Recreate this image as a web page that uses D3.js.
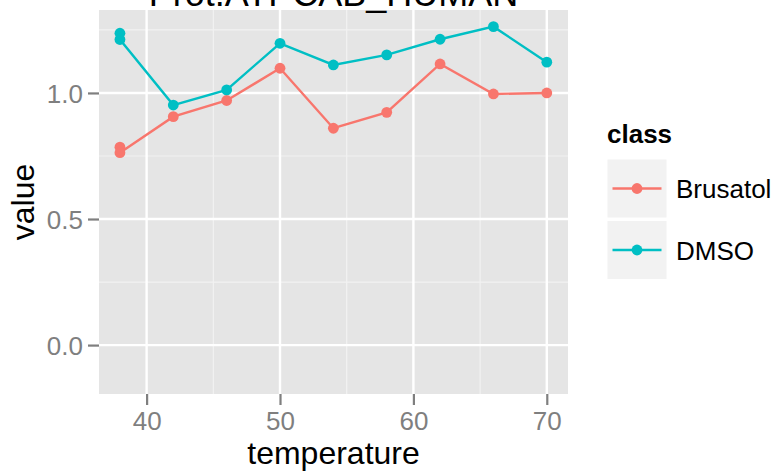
<!DOCTYPE html>
<html><head><meta charset="utf-8">
<script src="https://cdn.jsdelivr.net/npm/d3@7"></script>
<style>html,body{margin:0;padding:0;background:#fff;}svg{display:block;font-family:"Liberation Sans",Arial,sans-serif;}</style>
</head><body><svg id="c" width="775" height="472"></svg>
<script>
const chartTitle = "Prot.ATPCAB_HUMAN";
const classes = ["Brusatol", "DMSO"];
const colors = ["#F8766D", "#00BFC4"];
const brusatolTemp = [38, 38, 42, 46, 50, 54, 58, 62, 66, 70];
const brusatolValue = [0.785, 0.763, 0.906, 0.970, 1.098, 0.860, 0.923, 1.115, 0.996, 1.000];
const dmsoTemp = [38, 38, 42, 46, 50, 54, 58, 62, 66, 70];
const dmsoValue = [1.237, 1.212, 0.952, 1.012, 1.197, 1.111, 1.151, 1.213, 1.263, 1.122];
const xTicks = [40, 50, 60, 70];
const xMinor = [45, 55, 65];
const yTicks = [0, 0.5, 1.0];
const yMinor = [0.25, 0.75, 1.25];

const svg = d3.select("#c");
const P = {l: 99, r: 568, t: 10, b: 394};
const x = d3.scaleLinear().domain([36.43, 71.59]).range([P.l, P.r]);
const y = d3.scaleLinear().domain([-0.194, 1.329]).range([P.b, P.t]);

svg.append("rect").attr("x", P.l).attr("y", P.t).attr("width", P.r - P.l).attr("height", P.b - P.t).attr("fill", "#E5E5E5");
const g = svg.append("g");
xMinor.forEach(v => g.append("line").attr("x1", x(v)).attr("x2", x(v)).attr("y1", P.t).attr("y2", P.b).attr("stroke", "#F2F2F2").attr("stroke-width", 1.2));
yMinor.forEach(v => g.append("line").attr("y1", y(v)).attr("y2", y(v)).attr("x1", P.l).attr("x2", P.r).attr("stroke", "#F2F2F2").attr("stroke-width", 1.2));
xTicks.forEach(v => g.append("line").attr("x1", x(v)).attr("x2", x(v)).attr("y1", P.t).attr("y2", P.b).attr("stroke", "#fff").attr("stroke-width", 2.4));
yTicks.forEach(v => g.append("line").attr("y1", y(v)).attr("y2", y(v)).attr("x1", P.l).attr("x2", P.r).attr("stroke", "#fff").attr("stroke-width", 2.4));

// axes
const xAxis = d3.axisBottom(x).tickValues(xTicks).tickSize(11).tickPadding(4).tickFormat(d3.format("d"));
const gx = svg.append("g").attr("transform", `translate(0,${P.b})`).call(xAxis);
const yAxis = d3.axisLeft(y).tickValues(yTicks).tickSize(11).tickPadding(5).tickFormat(d3.format(".1f"));
const gy = svg.append("g").attr("transform", `translate(${P.l},0)`).call(yAxis);
[gx, gy].forEach(a => {
  a.select(".domain").remove();
  a.selectAll(".tick line").attr("stroke", "#7F7F7F").attr("stroke-width", 2.2);
  a.selectAll(".tick text").attr("fill", "#7F7F7F").attr("font-size", 26).attr("font-family", "Liberation Sans, Arial, sans-serif");
});
gx.selectAll(".tick text").attr("dy", null).attr("y", 36);
gy.selectAll(".tick text").attr("dy", "0.36em");

// series
const series = [
  {name: classes[0], color: colors[0], pts: brusatolTemp.map((t, i) => [t, brusatolValue[i]])},
  {name: classes[1], color: colors[1], pts: dmsoTemp.map((t, i) => [t, dmsoValue[i]])}
];
const line = d3.line().x(d => x(d[0])).y(d => y(d[1]));
series.forEach(s => {
  svg.append("path").attr("d", line(s.pts)).attr("fill", "none").attr("stroke", s.color).attr("stroke-width", 2.4);
  svg.selectAll(null).data(s.pts).enter().append("circle")
    .attr("cx", d => x(d[0])).attr("cy", d => y(d[1])).attr("r", 5.4).attr("fill", s.color);
});

// titles
svg.append("text").attr("x", (P.l + P.r) / 2).attr("y", 6).attr("text-anchor", "middle").attr("font-size", 36).attr("fill", "#000").text(chartTitle);
svg.append("text").attr("x", (P.l + P.r) / 2).attr("y", 464).attr("text-anchor", "middle").attr("font-size", 32).attr("fill", "#000").text("temperature");
svg.append("text").attr("transform", `translate(34,${(P.t + P.b) / 2}) rotate(-90)`).attr("text-anchor", "middle").attr("font-size", 32).attr("fill", "#000").text("value");

// legend
const L = svg.append("g");
L.append("text").attr("x", 607).attr("y", 143).attr("font-size", 26).attr("font-weight", "bold").text("class");
series.forEach((s, i) => {
  const top = 159.5 + i * 61.5;
  L.append("rect").attr("x", 607.5).attr("y", top).attr("width", 59).attr("height", 58).attr("fill", "#F2F2F2");
  L.append("line").attr("x1", 612.5).attr("x2", 661.5).attr("y1", top + 29).attr("y2", top + 29).attr("stroke", s.color).attr("stroke-width", 2.4);
  L.append("circle").attr("cx", 637).attr("cy", top + 29).attr("r", 5.4).attr("fill", s.color);
  L.append("text").attr("x", 676).attr("y", top + 38.5).attr("font-size", 26).attr("fill", "#000").text(s.name);
});
</script></body></html>
